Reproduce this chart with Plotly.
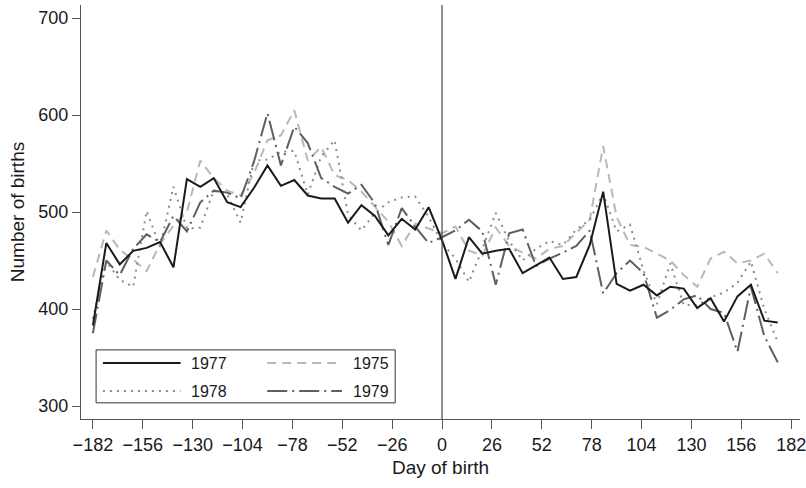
import plotly.graph_objects as go

# Weekly birth counts around the cutoff date (day 0)
days = list(range(-182, 176, 7))

births_1977 = [383, 468, 446, 460, 463, 469, 443, 534, 526, 535,
               510, 505, 525, 548, 527, 533, 517, 514, 514, 489,
               507, 496, 476, 493, 482, 505, 471, 431, 474, 457,
               460, 462, 437, 445, 453, 431, 433, 466, 521, 426,
               419, 425, 414, 423, 421, 401, 411, 387, 413, 425,
               388, 386]
births_1975 = [433, 481, 461, 451, 439, 467, 486, 500, 553, 535,
               522, 517, 540, 574, 579, 605, 553, 567, 538, 533,
               521, 505, 490, 465, 488, 483, 478, 485, 460, 455,
               484, 465, 458, 452, 462, 465, 478, 492, 568, 495,
               466, 464, 457, 450, 435, 423, 452, 459, 447, 450,
               457, 437]
births_1978 = [390, 449, 430, 423, 501, 464, 526, 483, 484, 522,
               518, 489, 553, 554, 562, 563, 518, 557, 574, 497,
               481, 499, 510, 515, 516, 495, 468, 452, 428, 462,
               499, 470, 450, 462, 470, 466, 482, 492, 519, 480,
               487, 440, 405, 447, 404, 404, 412, 417, 427, 449,
               400, 366]
births_1979 = [375, 450, 435, 462, 477, 469, 496, 480, 510, 522,
               520, 514, 552, 602, 548, 588, 571, 535, 526, 519,
               528, 509, 466, 504, 485, 468, 474, 481, 492, 480,
               425, 478, 482, 444, 452, 458, 465, 481, 416, 437,
               450, 437, 391, 399, 410, 414, 400, 396, 356, 423,
               372, 345]

x_ticks = list(range(-182, 183, 26))
x_tick_labels = [("\u2212" + str(-v)) if v < 0 else str(v) for v in x_ticks]
y_ticks = [300, 400, 500, 600, 700]

FONT = "Liberation Sans, Arial, Helvetica, sans-serif"
TEXT = "#1a1a1a"
AXIS = "#555555"

series = [
    ("1975", births_1975, "#b8b8b8", "9px,6px"),
    ("1978", births_1978, "#8c8c8c", "2px,5px"),
    ("1979", births_1979, "#5f5f5f", "20px,5px,2px,5px"),
    ("1977", births_1977, "#1a1a1a", "solid"),
]

fig = go.Figure()
for name, vals, color, dash in series:
    fig.add_trace(go.Scatter(
        x=days, y=vals, mode="lines", name=name,
        line=dict(color=color, width=2, dash=dash),
        showlegend=False,
    ))

# reference line at the cutoff
fig.add_vline(x=0, line=dict(color="#444444", width=1.2))

# boxed two-column legend in the lower left
legend_box = dict(x0=0.021, x1=0.437, y0=0.039, y1=0.167)
fig.add_shape(type="rect", xref="paper", yref="paper",
              line=dict(color="#333333", width=1), fillcolor="white",
              **legend_box)
legend_rows = [
    ("1977", "#1a1a1a", "solid", 0.0305, 0.1385, 0.135),
    ("1978", "#8c8c8c", "2px,5px", 0.0305, 0.1385, 0.0676),
    ("1975", "#b8b8b8", "9px,6px", 0.259, 0.363, 0.135),
    ("1979", "#5f5f5f", "20px,5px,2px,5px", 0.259, 0.363, 0.0676),
]
for label, color, dash, lx0, lx1, ly in legend_rows:
    fig.add_shape(type="line", xref="paper", yref="paper",
                  x0=lx0, x1=lx1, y0=ly, y1=ly,
                  line=dict(color=color, width=2, dash=dash))
    fig.add_annotation(xref="paper", yref="paper", x=lx1 + 0.012, y=ly,
                       text=label, showarrow=False, xanchor="left",
                       yanchor="middle",
                       font=dict(family=FONT, size=16, color=TEXT))

fig.update_xaxes(
    range=[-188.2, 186.6], tickmode="array", tickvals=x_ticks,
    ticktext=x_tick_labels, showgrid=False, zeroline=False,
    showline=True, linecolor=AXIS, linewidth=1.3,
    ticks="outside", ticklen=9, tickcolor=AXIS, tickwidth=1.3,
    ticklabeloverflow="allow",
    tickfont=dict(family=FONT, size=18, color=TEXT),
    title=dict(text="Day of birth", standoff=6,
               font=dict(family=FONT, size=19, color=TEXT)),
)
fig.update_yaxes(
    range=[286.6, 713.4], tickmode="array", tickvals=y_ticks,
    showgrid=False, zeroline=False,
    showline=True, linecolor=AXIS, linewidth=1.3,
    ticks="outside", ticklen=8, tickcolor=AXIS, tickwidth=1.3,
    tickfont=dict(family=FONT, size=18, color=TEXT),
    title=dict(text="Number of births", standoff=8,
               font=dict(family=FONT, size=19, color=TEXT)),
)
fig.update_layout(
    width=806, height=488,
    margin=dict(l=81, r=6, t=5, b=69, autoexpand=False),
    paper_bgcolor="white", plot_bgcolor="white",
    showlegend=False,
)

fig.write_html("out.html")
